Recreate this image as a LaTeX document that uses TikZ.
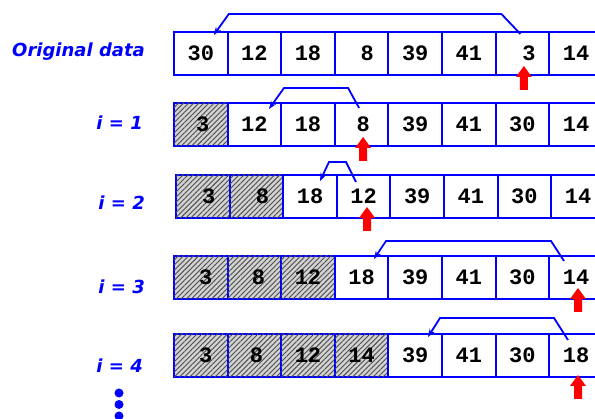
\documentclass[tikz,border=0pt]{standalone}
\usepackage{fontspec}
\setmainfont{DejaVu Sans}
\newfontfamily\numfont{Liberation Mono}
\usetikzlibrary{patterns.meta,arrows.meta,calc}
\definecolor{myblue}{RGB}{0,0,255}
\definecolor{myred}{RGB}{255,0,0}
\begin{document}
\begin{tikzpicture}[x=1pt,y=-1pt,
 cell/.style={draw=myblue,line width=2pt,minimum width=53.6pt,minimum height=43pt,inner sep=0pt,
   font=\numfont\bfseries\fontsize{22}{22}\selectfont,anchor=north west},
 done/.style={fill=gray!35,postaction={pattern={Lines[angle=45,distance=3.6pt,line width=0.9pt]},pattern color=black!70}},
 plain/.style={},
 lbl/.style={font=\bfseries\itshape\fontsize{18}{18}\selectfont,text=myblue,anchor=east,inner sep=0pt},
 link/.style={draw=myblue,line width=1.8pt,-{Stealth[length=8pt,width=6pt]}},
 ptr/.style={fill=myred},
 dot/.style={fill=myblue}]
\useasboundingbox (0,0) rectangle (595,419);
\clip (0,0) rectangle (595,419);
% labels
\node[lbl] (l1) at (145,52) {Original data};
\node[lbl] (l2) at (143,123) {i = 1};
\node[lbl] (l3) at (145,203) {i = 2};
\node[lbl] (l4) at (145,287) {i = 3};
\node[lbl] (l5) at (143,366) {i = 4};
% rows
\foreach \v/\s/\st [count=\i] in {30/0/plain,12/0/plain,18/0/plain,8/11/plain,39/0/plain,41/0/plain,3/13/plain,14/0/plain}
  \node[cell,\st] (r1c\i) at ({173+(\i-1)*53.6},31) {\hspace*{\s pt}\v};
\foreach \v/\s/\st [count=\i] in {3/4/done,12/0/plain,18/0/plain,8/3/plain,39/0/plain,41/0/plain,30/0/plain,14/0/plain}
  \node[cell,\st] (r2c\i) at ({173+(\i-1)*53.6},102) {\hspace*{\s pt}\v};
\foreach \v/\s/\st [count=\i] in {3/12/done,8/12/done,18/0/plain,12/0/plain,39/0/plain,41/0/plain,30/0/plain,14/0/plain}
  \node[cell,\st] (r3c\i) at ({175+(\i-1)*53.6},174) {\hspace*{\s pt}\v};
\foreach \v/\s/\st [count=\i] in {3/10/done,8/8/done,12/0/done,18/0/plain,39/0/plain,41/0/plain,30/0/plain,14/0/plain}
  \node[cell,\st] (r4c\i) at ({173+(\i-1)*53.6},255) {\hspace*{\s pt}\v};
\foreach \v/\s/\st [count=\i] in {3/10/done,8/4/done,12/0/done,14/0/done,39/0/plain,41/0/plain,30/0/plain,18/0/plain}
  \node[cell,\st] (r5c\i) at ({173+(\i-1)*53.6},333) {\hspace*{\s pt}\v};
% connectors
\draw[link] ($(r1c7.north)+(-2,3)$) -- ++(-19,-20) -- ($(r1c1.north)+(28,-17)$) -- ($(r1c1.north)+(13,4)$);
\draw[link] ($(r2c4.north)+(-2.5,6)$) -- ++(-11,-20) -- ($(r2c2.north)+(29.6,-14)$) -- ($(r2c2.north)+(14.6,7)$);
\draw[link] ($(r3c4.north)+(-7.6,8)$) -- ++(-10,-20) -- ($(r3c3.north)+(19,-12)$) -- ($(r3c3.north)+(10,7)$);
\draw[link] ($(r4c8.north)+(-12,6)$) -- ++(-13,-20) -- ($(r4c4.north)+(24.4,-14)$) -- ($(r4c4.north)+(12.4,4)$);
\draw[link] ($(r5c8.north)+(-8,7)$) -- ++(-14,-22) -- ($(r5c5.north)+(24.8,-15)$) -- ($(r5c5.north)+(12.8,4)$);
% red pointers
\foreach \c/\dx/\dy [count=\k] in {r1c7/1.5/-10,r2c4/1.5/-10,r3c4/3.4/-12,r4c8/2/-12,r5c8/2/-3}{
  \coordinate (p\k) at ($(\c.south)+(\dx,\dy)$);
  \fill[ptr] (p\k) -- ++(8,11) -- ++(-4,0) -- ++(0,13) -- ++(-8,0) -- ++(0,-13) -- ++(-4,0) -- cycle;
}
% continuation dots
\fill[dot] (119,393) circle (4.5);
\fill[dot] (119,404.5) circle (4.5);
\fill[dot] (119,416) circle (4.5);
\end{tikzpicture}
\end{document}
